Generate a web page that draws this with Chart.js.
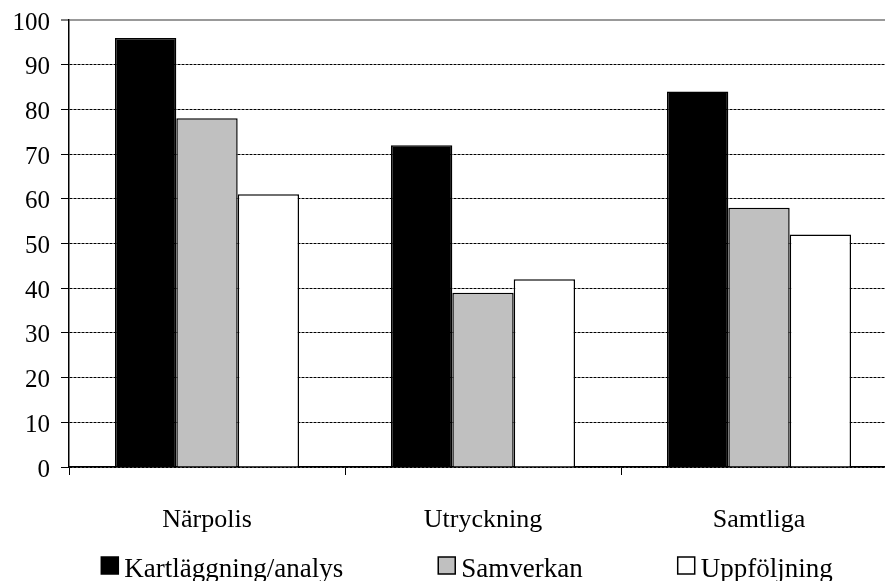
<!DOCTYPE html>
<html lang="sv">
<head>
<meta charset="UTF-8">
<title>Diagram</title>
<script src="https://cdn.jsdelivr.net/npm/chart.js"></script>
<style>
    html, body { margin: 0; padding: 0; background: #fff; overflow: hidden; }
    #wrap { width: 885px; height: 581px; overflow: hidden; position: relative; }
    #wrap canvas { position: absolute; left: 0; top: 0; }
</style>
</head>
<body>
<div id="wrap"><canvas id="myChart" width="934" height="592"></canvas></div>
<script>
    // data
    const categories = ['Närpolis', 'Utryckning', 'Samtliga'];
    const seriesNames = ['Kartläggning/analys', 'Samverkan', 'Uppföljning'];
    const kartlaggning = [96, 72, 84];
    const samverkan = [78, 39, 58];
    const uppfoljning = [61, 42, 52];
    const yMin = 0, yMax = 100, yStep = 10;

    const serif = '"Liberation Serif", "Times New Roman", serif';

    // legend drawn by hand, the built-in one can't do the tight box/text gap
    const bottomLegend = {
        id: 'bottomLegend',
        afterDraw(chart) {
            const ctx = chart.ctx;
            ctx.save();
            ctx.font = '27px ' + serif;
            const box = 17, gap = 6, space = 95;
            const items = chart.data.datasets.map(ds => ({
                label: ds.label,
                fill: ds.backgroundColor,
                w: ctx.measureText(ds.label).width
            }));
            const total = items.reduce((s, it) => s + box + gap + it.w, 0) + space * (items.length - 1);
            let x = chart.width / 2 - total / 2;
            const base = 577;
            items.forEach(it => {
                ctx.fillStyle = it.fill;
                ctx.fillRect(x, base - 20, box, box);
                ctx.strokeStyle = '#000';
                ctx.lineWidth = 1.5;
                ctx.strokeRect(x, base - 20, box, box);
                ctx.fillStyle = '#000';
                ctx.textBaseline = 'alphabetic';
                ctx.textAlign = 'left';
                ctx.fillText(it.label, x + box + gap, base);
                x += box + gap + it.w + space;
            });
            ctx.restore();
        }
    };

    const ctx = document.getElementById('myChart').getContext('2d');
    const myChart = new Chart(ctx, {
        type: 'bar',
        data: {
            labels: categories,
            datasets: [
                { label: seriesNames[0], data: kartlaggning, backgroundColor: '#000000' },
                { label: seriesNames[1], data: samverkan, backgroundColor: '#c0c0c0' },
                { label: seriesNames[2], data: uppfoljning, backgroundColor: '#ffffff' }
            ]
        },
        options: {
            responsive: false,
            animation: false,
            datasets: {
                bar: {
                    borderColor: '#000',
                    borderWidth: 1.5,
                    categoryPercentage: 0.667,
                    barPercentage: 1.0
                }
            },
            layout: { padding: { top: 20, left: 11, right: 37, bottom: 0 } },
            plugins: {
                legend: { display: false },
                tooltip: { enabled: false }
            },
            scales: {
                x: {
                    grid: {
                        offset: true,
                        drawOnChartArea: false,
                        drawTicks: true,
                        tickLength: 8,
                        tickColor: '#000',
                        tickWidth: 1
                    },
                    border: { color: '#000', width: 1.5 },
                    ticks: {
                        color: '#000',
                        padding: 30,
                        font: { family: serif, size: 26 }
                    },
                    afterFit(scale) {
                        scale.height = 125;
                        scale.paddingLeft = 0;
                        scale.paddingRight = 0;
                    }
                },
                y: {
                    min: yMin,
                    max: yMax,
                    ticks: {
                        stepSize: yStep,
                        color: '#000',
                        padding: 11,
                        labelOffset: 3,
                        font: { family: serif, size: 25 }
                    },
                    grid: {
                        color: c => (c.tick && c.tick.value === yMax) ? '#999999' : '#000000',
                        lineWidth: c => (c.tick && c.tick.value === yMax) ? 2 : 1,
                        tickColor: '#000',
                        tickLength: 8,
                        tickWidth: 1,
                        tickBorderDash: []
                    },
                    border: {
                        color: '#000',
                        width: 1.5,
                        dash: c => (c.tick && c.tick.value === yMax) ? [] : [3, 1]
                    },
                    afterFit(scale) {
                        scale.width = 58;
                        scale.paddingTop = 0;
                        scale.paddingBottom = 0;
                    }
                }
            }
        },
        plugins: [bottomLegend]
    });
</script>
</body>
</html>
